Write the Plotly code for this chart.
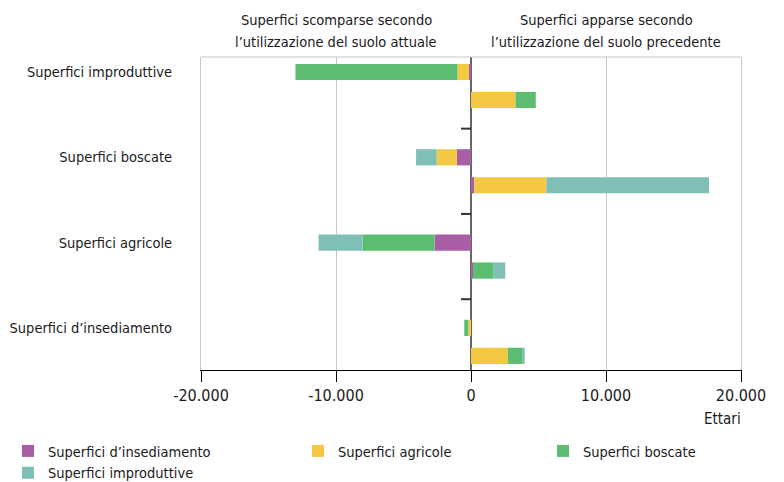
import plotly.graph_objects as go

# righe dal basso verso l'alto
categorie = ["Superfici d’insediamento", "Superfici agricole", "Superfici boscate", "Superfici improduttive"]

# superfici scomparse (valori negativi), per utilizzazione attuale
scomparse_insediamento = [0, -2700, -1040, -150]
scomparse_agricole = [-200, 0, -1500, -850]
scomparse_boscate = [-300, -5330, 0, -12000]
scomparse_improduttive = [0, -3260, -1530, 0]

# superfici apparse, per utilizzazione precedente
apparse_insediamento = [0, 150, 250, 0]
apparse_agricole = [2720, 0, 5330, 3300]
apparse_boscate = [1060, 1530, 0, 1500]
apparse_improduttive = [200, 860, 12050, 0]

x_tickvals = [-20000, -10000, 0, 10000, 20000]
x_ticktext = ["-20.000", "-10.000", "0", "10.000", "20.000"]

titolo_sx = ["Superfici scomparse secondo", "l’utilizzazione del suolo attuale"]
titolo_dx = ["Superfici apparse secondo", "l’utilizzazione del suolo precedente"]

colori = ["#a85ea4", "#f4c843", "#5cbd70", "#7fbfb6"]
serie = [
    (categorie[0], scomparse_insediamento, apparse_insediamento, "legend"),
    (categorie[1], scomparse_agricole, apparse_agricole, "legend2"),
    (categorie[2], scomparse_boscate, apparse_boscate, "legend3"),
    (categorie[3], scomparse_improduttive, apparse_improduttive, "legend"),
]

off = 0.164
y_top = [i + off for i in range(len(categorie))]
y_bot = [i - off for i in range(len(categorie))]

FONT = "DejaVu Sans Condensed, Liberation Sans Narrow, sans-serif"

fig = go.Figure()
for (nome, sc, ap, leg), col in zip(serie, colori):
    fig.add_trace(go.Bar(
        name=nome,
        x=sc + ap,
        y=y_top + y_bot,
        orientation="h",
        width=0.19,
        marker=dict(color=col, line=dict(width=0)),
        legend=leg,
        hoverinfo="x+name",
    ))

# trattini sulla linea dello zero tra i gruppi
separatori = [dict(type="line", xref="x", yref="y", xsizemode="pixel", xanchor=0,
                   x0=-10, x1=0, y0=b, y1=b, line=dict(color="#333333", width=2))
              for b in [0.5, 1.5, 2.5]]

leg_common = dict(xref="container", yref="container", xanchor="left", yanchor="top",
                  orientation="v", bgcolor="rgba(0,0,0,0)", tracegroupgap=0,
                  font=dict(size=14.5))
leg_y = 1 - 427 / 482

titoli = []
for x, righe in [(-10000, titolo_sx), (10000, titolo_dx)]:
    for riga, sh in zip(righe, [37, 15]):
        titoli.append(dict(text=riga, x=x, xref="x", y=1, yref="paper",
                           yanchor="middle", yshift=sh, showarrow=False,
                           font=dict(size=14.5)))

yr = [-0.33, 3.34]
fig.update_layout(
    width=784, height=482,
    barmode="relative",
    plot_bgcolor="white", paper_bgcolor="white",
    font=dict(family=FONT, size=16, color="#1a1a1a"),
    margin=dict(l=193, r=51, t=49, b=120, autoexpand=False),
    xaxis=dict(
        range=[-20000, 20000], tickvals=x_tickvals, ticktext=x_ticktext,
        ticks="outside", ticklen=11, tickcolor="black",
        showline=True, linecolor="black", linewidth=1,
        showgrid=True, gridcolor="#c8c8c8", gridwidth=1,
        zeroline=True, zerolinecolor="#666666", zerolinewidth=2,
        fixedrange=True, automargin=False,
    ),
    yaxis=dict(
        range=yr, tickvals=y_top, ticktext=categorie, ticks="",
        ticklabelstandoff=25, tickfont=dict(size=14.5),
        showgrid=False, zeroline=False,
        showline=True, linecolor="#c8c8c8", linewidth=1, mirror=True,
        fixedrange=True, automargin=False,
    ),
    shapes=[dict(type="line", xref="paper", yref="paper", x0=0, x1=1, y0=1, y1=1,
                 line=dict(color="#c8c8c8", width=1))] + separatori,
    legend=dict(x=0, y=leg_y, **leg_common),
    legend2=dict(x=290 / 784, y=leg_y, **leg_common),
    legend3=dict(x=535 / 784, y=leg_y, **leg_common),
    annotations=titoli + [
        dict(text="Ettari", x=1, xref="paper", xanchor="right", xshift=2,
             y=0, yref="paper", yanchor="top", yshift=-38,
             showarrow=False, font=dict(size=15)),
    ],
)

fig.write_html("out.html")
